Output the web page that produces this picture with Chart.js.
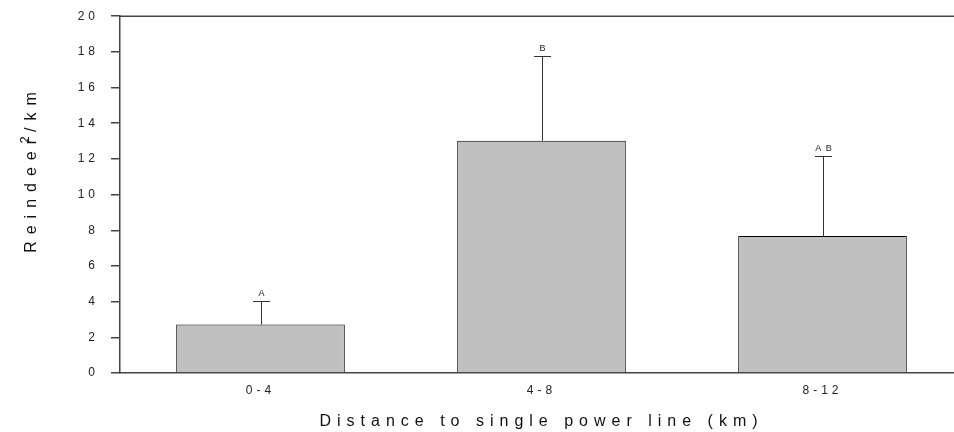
<!DOCTYPE html>
<html>
    <head>
        <meta charset="UTF-8" />
        <title>Reindeer density by distance to power line</title>
        <script src="https://cdn.jsdelivr.net/npm/chart.js@4.4.2/dist/chart.umd.min.js"></script>
        <style>
            html,
            body {
                margin: 0;
                padding: 0;
                background: #fff;
                overflow: hidden;
            }

            /* pull the canvas up a little so the plot top lands where the figure has it */
            #wrap {
                width: 963px;
                height: 435px;
                margin-top: -3px;
            }
        </style>
    </head>
    <body>
        <div id="wrap">
            <canvas id="barChart" width="963" height="435"></canvas>
        </div>

        <script>
            // --- data ---
            var distances = ["0-4", "4-8", "8-12"];
            var density = [2.72, 13.02, 7.68];
            var upperError = [4.03, 17.76, 12.18];
            var groupLetters = ["A", "B", "A B"];

            var FONT = "'Liberation Sans', Arial, sans-serif";

            // error bars, letters, top frame line and spaced axis titles
            var extras = {
                id: "extras",
                beforeDraw: function (chart) {
                    chart.ctx.letterSpacing = "4px";
                },
                afterDatasetsDraw: function (chart) {
                    var ctx = chart.ctx;
                    var xs = chart.scales.x;
                    var ys = chart.scales.y;
                    var area = chart.chartArea;

                    ctx.save();
                    ctx.strokeStyle = "#444";
                    ctx.lineWidth = 1.5;
                    ctx.beginPath();
                    ctx.moveTo(area.left, area.top);
                    ctx.lineTo(area.right, area.top);
                    ctx.stroke();

                    ctx.strokeStyle = "#333";
                    ctx.lineWidth = 1;
                    ctx.fillStyle = "#222";
                    ctx.font = "9px " + FONT;
                    ctx.letterSpacing = "1px";
                    ctx.textAlign = "center";
                    ctx.textBaseline = "bottom";
                    for (var i = 0; i < density.length; i++) {
                        var cx = Math.round(xs.getPixelForValue(i)) + 0.5;
                        var yBar = ys.getPixelForValue(density[i]);
                        var yErr = Math.round(ys.getPixelForValue(upperError[i])) + 0.5;
                        ctx.beginPath();
                        ctx.moveTo(cx, yBar);
                        ctx.lineTo(cx, yErr);
                        ctx.moveTo(cx - 8.5, yErr);
                        ctx.lineTo(cx + 8.5, yErr);
                        ctx.stroke();
                        ctx.fillText(groupLetters[i], cx + 0.5, yErr - 3);
                    }
                    ctx.restore();
                },
                afterDraw: function (chart) {
                    var ctx = chart.ctx;
                    var area = chart.chartArea;

                    ctx.save();
                    ctx.fillStyle = "#111";
                    ctx.font = "16px " + FONT;
                    ctx.textAlign = "center";
                    ctx.textBaseline = "middle";
                    ctx.letterSpacing = "6px";
                    ctx.fillText("Distance to single power line (km)", (area.left + area.right) / 2, 425);

                    // rotated y title with the squared mark raised over the "r"
                    ctx.translate(32, 172);
                    ctx.rotate(-Math.PI / 2);
                    ctx.letterSpacing = "7px";
                    ctx.fillText("Reindeer/km", 0, 0);
                    ctx.font = "13px " + FONT;
                    ctx.letterSpacing = "0px";
                    ctx.fillText("2", 29, -7);
                    ctx.restore();

                    ctx.letterSpacing = "0px";
                },
            };

            var ctx = document.getElementById("barChart").getContext("2d");
            var barChart = new Chart(ctx, {
                type: "bar",
                plugins: [extras],
                data: {
                    labels: distances,
                    datasets: [
                        {
                            data: density,
                            backgroundColor: "#c0c0c0",
                            borderColor: "#000",
                            borderWidth: 1,
                            barPercentage: 0.6,
                            categoryPercentage: 1,
                        },
                    ],
                },
                options: {
                    responsive: false,
                    animation: false,
                    devicePixelRatio: 1,
                    layout: {
                        padding: { top: 12, right: 0, bottom: 0, left: 0 },
                    },
                    plugins: {
                        legend: { display: false },
                        tooltip: { enabled: false },
                    },
                    scales: {
                        x: {
                            grid: { display: false },
                            border: { display: true, color: "#444", width: 1.5 },
                            ticks: {
                                color: "#222",
                                font: { family: FONT, size: 12 },
                                padding: 2,
                                maxRotation: 0,
                            },
                            afterFit: function (scale) {
                                scale.height = 59;
                            },
                        },
                        y: {
                            min: 0,
                            max: 20,
                            ticks: {
                                stepSize: 2,
                                color: "#222",
                                font: { family: FONT, size: 12 },
                                padding: 12,
                            },
                            grid: {
                                display: true,
                                drawOnChartArea: false,
                                drawTicks: true,
                                tickLength: 9,
                                color: "#444",
                                lineWidth: 1.5,
                            },
                            border: { display: true, color: "#444", width: 1.5 },
                            afterFit: function (scale) {
                                scale.width = 120;
                            },
                        },
                    },
                },
            });
        </script>
    </body>
</html>
